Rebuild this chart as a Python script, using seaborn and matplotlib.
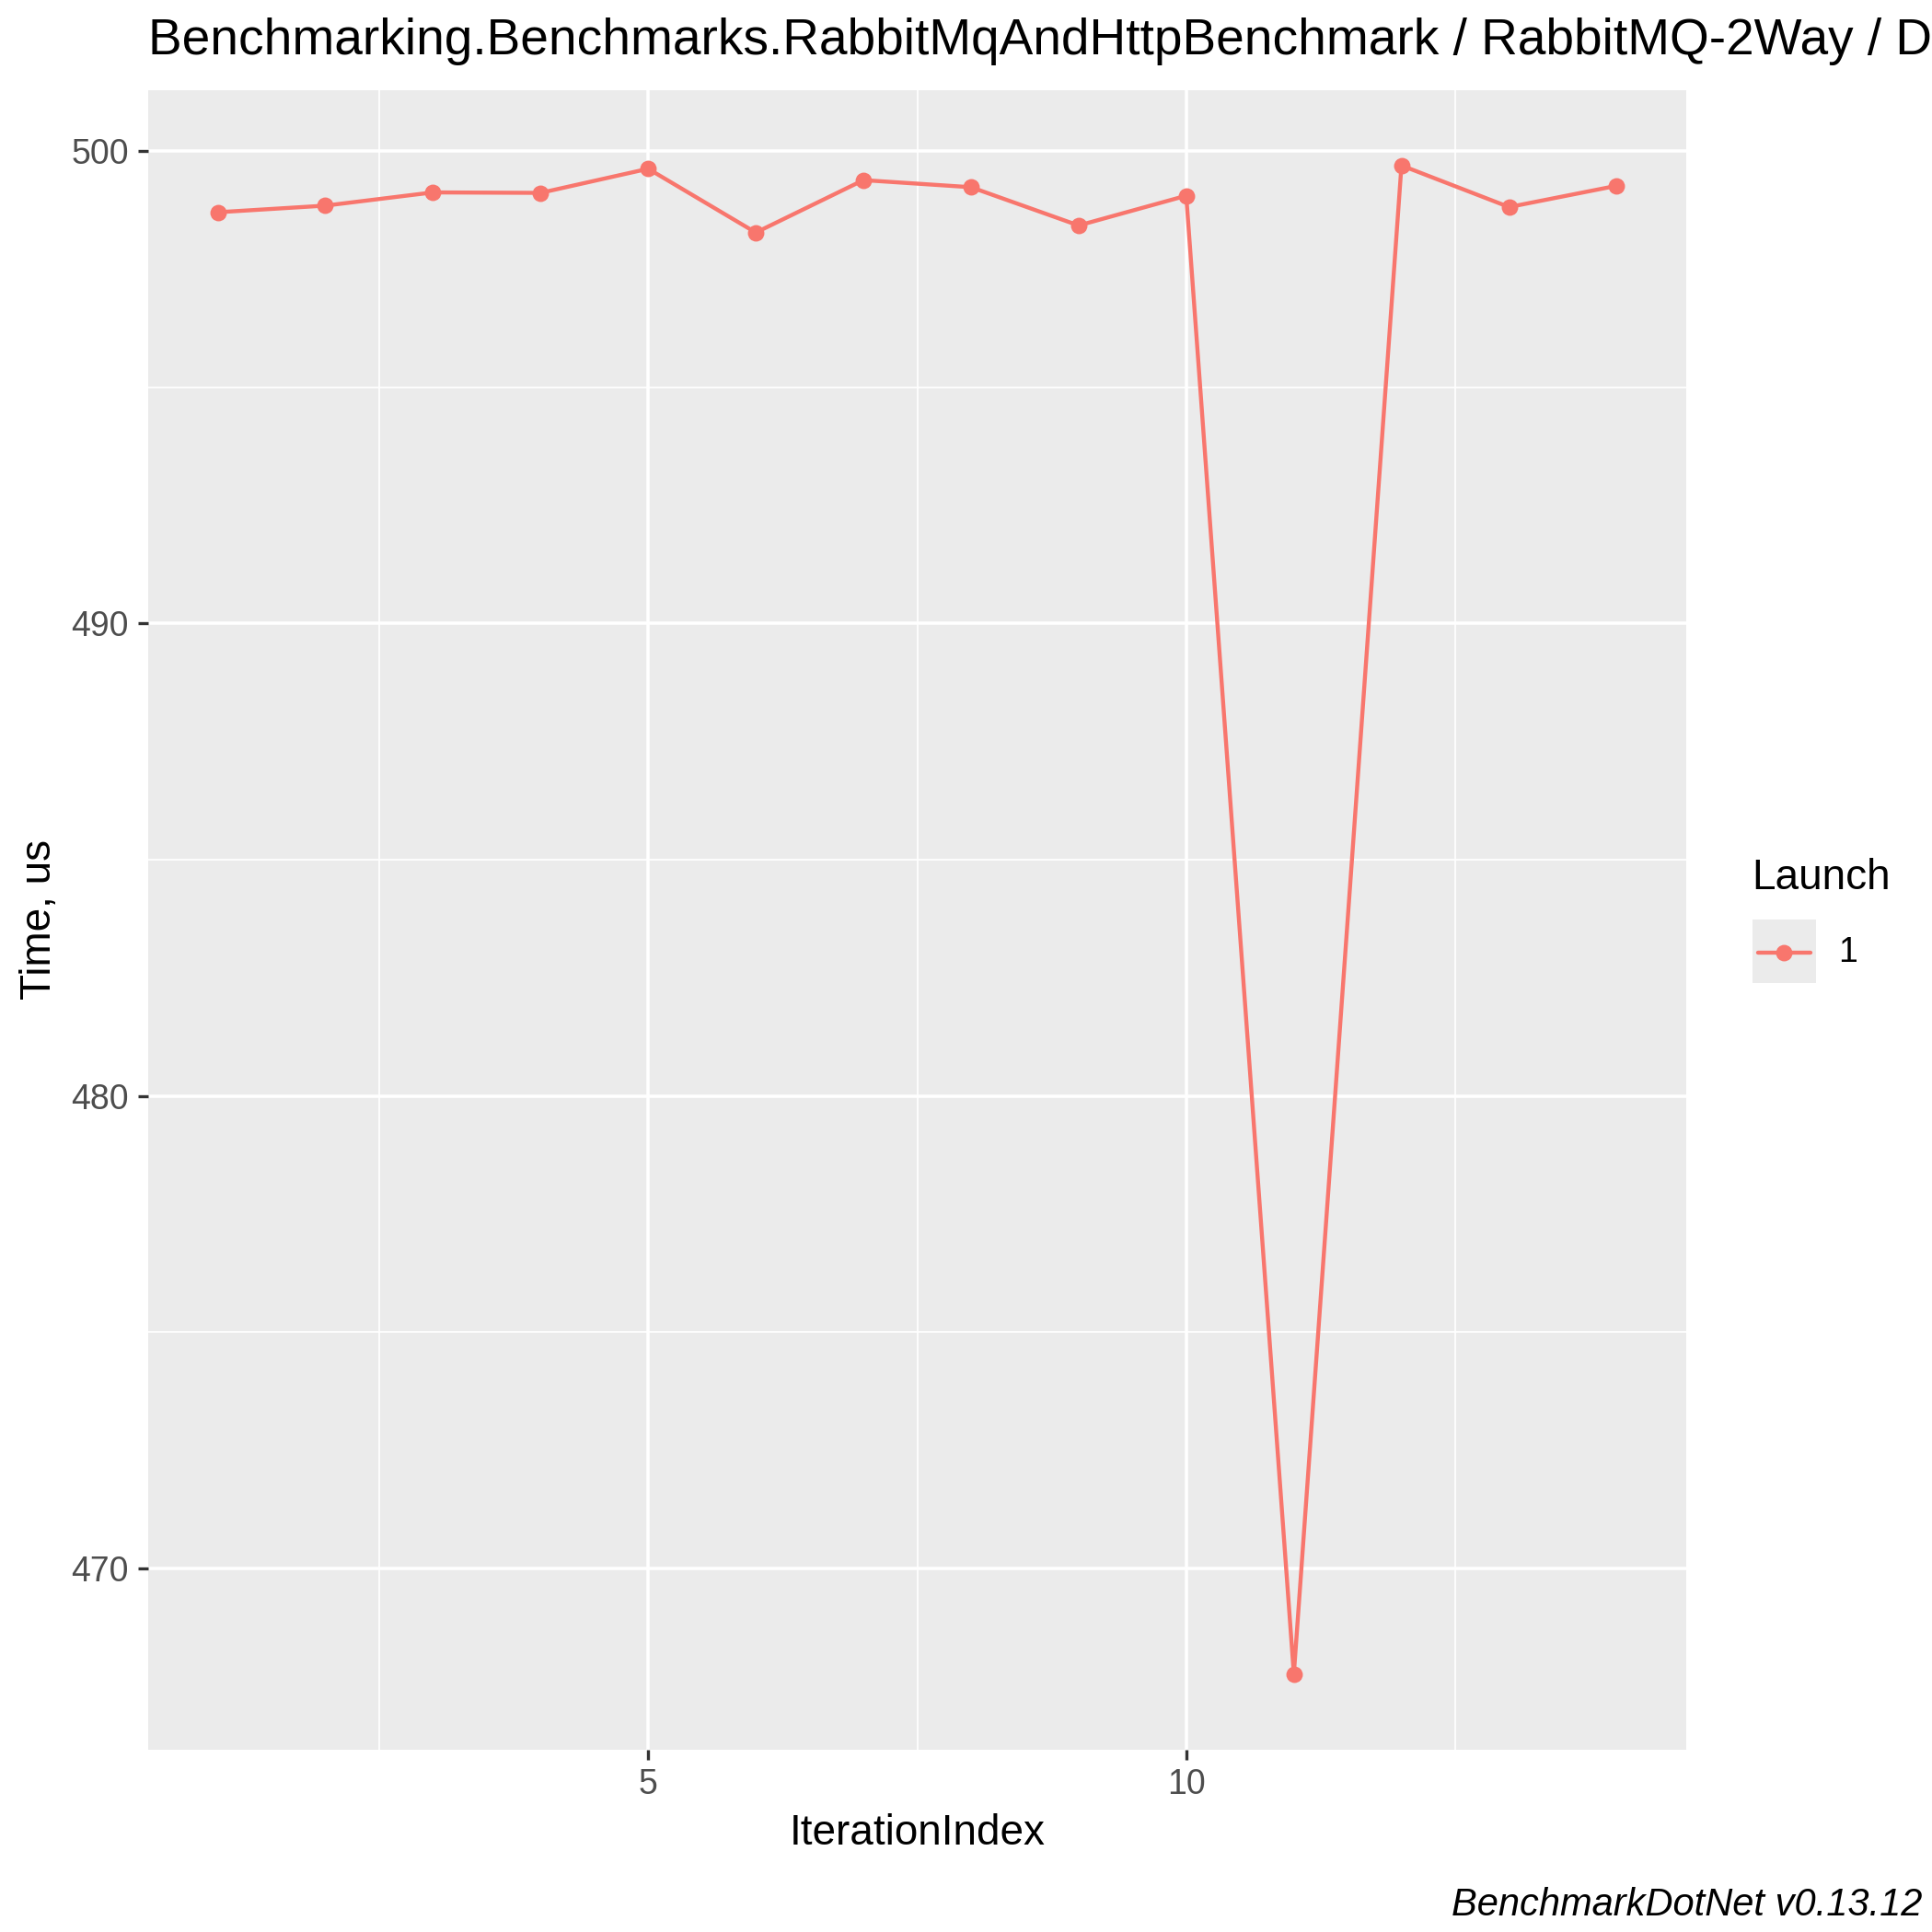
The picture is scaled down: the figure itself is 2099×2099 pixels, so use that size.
import matplotlib
matplotlib.use("Agg")
import matplotlib.pyplot as plt
import seaborn as sns
import pandas as pd
import numpy as np
from matplotlib.patches import Rectangle
from matplotlib.lines import Line2D
from matplotlib.ticker import FixedLocator

# ---- data ----
iteration_index = [1, 2, 3, 4, 5, 6, 7, 8, 9, 10, 11, 12, 13, 14]
time_us = [498.70, 498.84, 499.12, 499.11, 499.62, 498.27, 499.38,
           499.23, 498.42, 499.05, 467.76, 499.69, 498.81, 499.26]
launch = ["1"] * len(iteration_index)
title = "Benchmarking.Benchmarks.RabbitMqAndHttpBenchmark / RabbitMQ-2Way / D"
x_ticks = [5, 10]
y_ticks = [470, 480, 490, 500]
caption = "BenchmarkDotNet v0.13.12"

df = pd.DataFrame({"IterationIndex": iteration_index, "Time": time_us, "Launch": launch})

sns.set_theme(style="darkgrid")
plt.rcParams["font.family"] = ["Liberation Sans", "DejaVu Sans"]

color = "#F8766D"
fig = plt.figure(figsize=(2099 / 300, 2099 / 300), dpi=300)
ax = fig.add_axes([0.0765, 0.0944, 0.873 - 0.0765, 0.9534 - 0.0944])
ax.set_facecolor("#EBEBEB")

sns.lineplot(data=df, x="IterationIndex", y="Time", hue="Launch", palette=[color],
             marker="o", markersize=4.3, markeredgewidth=0, linewidth=1.05,
             legend=False, ax=ax)

# limits with ggplot-like 5% expansion
xmin, xmax = min(iteration_index), max(iteration_index)
xr = xmax - xmin
ax.set_xlim(xmin - 0.05 * xr, xmax + 0.05 * xr)
ymin, ymax = min(time_us), max(time_us)
yr = ymax - ymin
ax.set_ylim(ymin - 0.05 * yr, ymax + 0.05 * yr)

ax.xaxis.set_major_locator(FixedLocator(x_ticks))
ax.yaxis.set_major_locator(FixedLocator(y_ticks))
ax.xaxis.set_minor_locator(FixedLocator([2.5, 7.5, 12.5]))
ax.yaxis.set_minor_locator(FixedLocator([475, 485, 495]))
ax.grid(which="major", color="white", linewidth=0.85)
ax.grid(which="minor", color="white", linewidth=0.42)
ax.set_axisbelow(True)
for s in ax.spines.values():
    s.set_visible(False)

ax.tick_params(axis="both", which="major", length=2.75, width=0.8, color="#333333",
               labelsize=9.0, labelcolor="#4D4D4D", pad=2.2, direction="out",
               bottom=True, left=True)
ax.tick_params(axis="both", which="minor", length=0)

ax.set_xlabel("IterationIndex", fontsize=11, color="black", labelpad=3)
ax.set_ylabel("Time, us", fontsize=11, color="black", labelpad=3)

fig.text(0.0765, 0.9785, title, fontsize=13.2, color="black", ha="left", va="center")
fig.text(0.9950, 0.0140, caption, fontsize=10.0, style="italic", color="black",
         ha="right", va="center")

# legend
fig.text(0.9069, 0.5453, "Launch", fontsize=11, color="black", ha="left", va="center")
fig.add_artist(Rectangle((0.9069, 0.4911), 0.0331, 0.0331, transform=fig.transFigure,
                         facecolor="#EBEBEB", edgecolor="none"))
fig.add_artist(Line2D([0.9100, 0.9369], [0.5070, 0.5070], transform=fig.transFigure,
                      color=color, linewidth=1.05))
fig.add_artist(Line2D([0.92345], [0.5070], transform=fig.transFigure, color=color,
                      marker="o", markersize=4.3, markeredgewidth=0, linestyle="none"))
fig.text(0.9515, 0.5070, "1", fontsize=9.0, color="black", ha="left", va="center")

fig.savefig("out.png", dpi=300, facecolor="white")
